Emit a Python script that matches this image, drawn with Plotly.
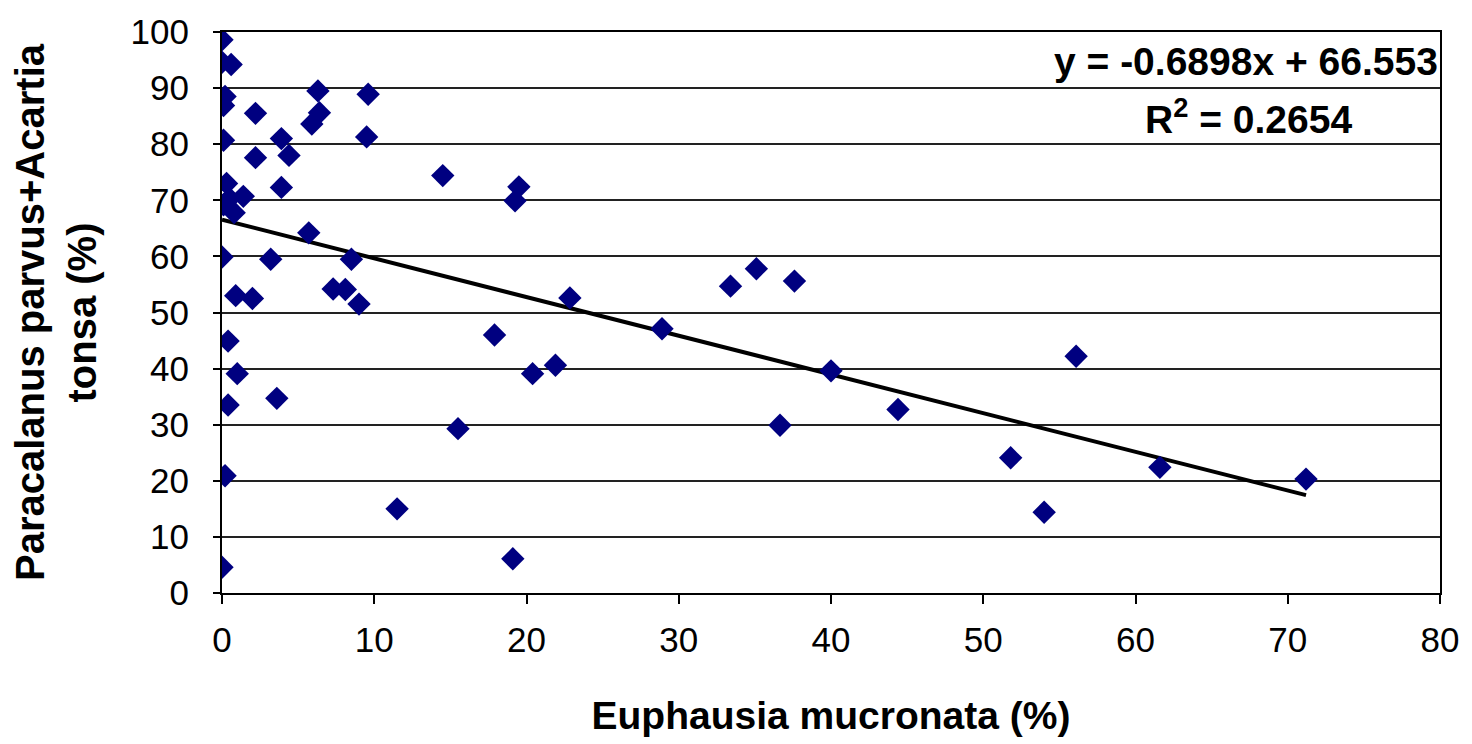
import plotly.graph_objects as go

# Euphausia mucronata (%) vs Paracalanus parvus + Acartia tonsa (%)
euphausia = [0.0, 0.0, 0.6, 6.3, 9.6, 0.2, 0.1, 2.2, 6.4, 5.9, 0.1, 3.9, 4.4, 9.5,
             2.2, 3.9, 0.3, 1.4, 0.1, 0.8, 0.5, 5.7, 0.0, 3.2, 8.5, 0.9, 2.0, 7.3,
             8.1, 9.0, 0.4, 1.0, 0.4, 3.6, 0.2, 0.0, 11.5, 14.5, 19.5, 19.25, 22.85,
             28.9, 17.9, 21.9, 20.4, 15.5, 19.1, 33.4, 35.1, 37.6, 40.0, 36.65,
             44.4, 56.1, 51.8, 54.0, 61.6, 71.2]
paracalanus = [98.6, 94.6, 94.2, 89.5, 88.9, 88.5, 86.9, 85.5, 85.6, 83.6, 80.7, 81.0,
               78.0, 81.3, 77.6, 72.3, 73.0, 70.7, 69.2, 67.8, 70.3, 64.2, 59.9, 59.5,
               59.5, 53.0, 52.5, 54.2, 54.1, 51.5, 44.9, 39.1, 33.5, 34.7, 20.9, 4.6,
               15.0, 74.4, 72.4, 69.9, 52.6, 47.1, 46.0, 40.6, 39.1, 29.3, 6.1, 54.7,
               57.8, 55.6, 39.6, 29.9, 32.7, 42.2, 24.1, 14.4, 22.4, 20.3]

slope = -0.6898
intercept = 66.553
x_ticks = [0, 10, 20, 30, 40, 50, 60, 70, 80]
y_ticks = [0, 10, 20, 30, 40, 50, 60, 70, 80, 90, 100]

trend_x = [min(euphausia), max(euphausia)]
trend_y = [slope * v + intercept for v in trend_x]

fig = go.Figure()
fig.add_trace(go.Scatter(
    x=trend_x, y=trend_y, mode="lines",
    line=dict(color="black", width=4), showlegend=False, hoverinfo="skip"))
fig.add_trace(go.Scatter(
    x=euphausia, y=paracalanus, mode="markers",
    marker=dict(symbol="diamond", size=18, color="#000080",
                line=dict(width=0)),
    showlegend=False))

font_family = "Liberation Sans, Arial, sans-serif"

fig.update_layout(
    width=1472, height=744,
    margin=dict(l=222, r=32, t=23, b=151),
    paper_bgcolor="white", plot_bgcolor="white",
    font=dict(family=font_family, color="black"),
    xaxis=dict(
        range=[0, 80], tickvals=x_ticks, ticks="outside", ticklen=9,
        tickwidth=1.5, tickcolor="black", showgrid=False, zeroline=False,
        showline=True, linecolor="black", linewidth=2, mirror=True,
        tickfont=dict(size=35), ticklabelstandoff=6,
        title=dict(text="<b>Euphausia mucronata (%)</b>", font=dict(size=39), standoff=44)),
    yaxis=dict(
        range=[0, 100], tickvals=y_ticks, ticks="outside", ticklen=7,
        tickwidth=1.5, tickcolor="black", showgrid=True, gridcolor="#222",
        gridwidth=1.5, zeroline=False,
        showline=True, linecolor="black", linewidth=2, mirror=True,
        tickfont=dict(size=35), ticklabelstandoff=17,
        title=dict(text="<b>Paracalanus parvus+Acartia<br>tonsa (%)</b>",
                   font=dict(size=40), standoff=22)),
    annotations=[
        dict(text="<b>y = -0.6898x + 66.553</b>", xref="paper", yref="paper",
             x=1.0, y=0.948, xanchor="right", yanchor="middle", showarrow=False,
             font=dict(size=39, family=font_family)),
        dict(text="<b>R<sup>2</sup> = 0.2654</b>", xref="paper", yref="paper",
             x=0.843, y=0.85, xanchor="center", yanchor="middle", showarrow=False,
             font=dict(size=39, family=font_family)),
    ],
)

fig.write_html("out.html")
